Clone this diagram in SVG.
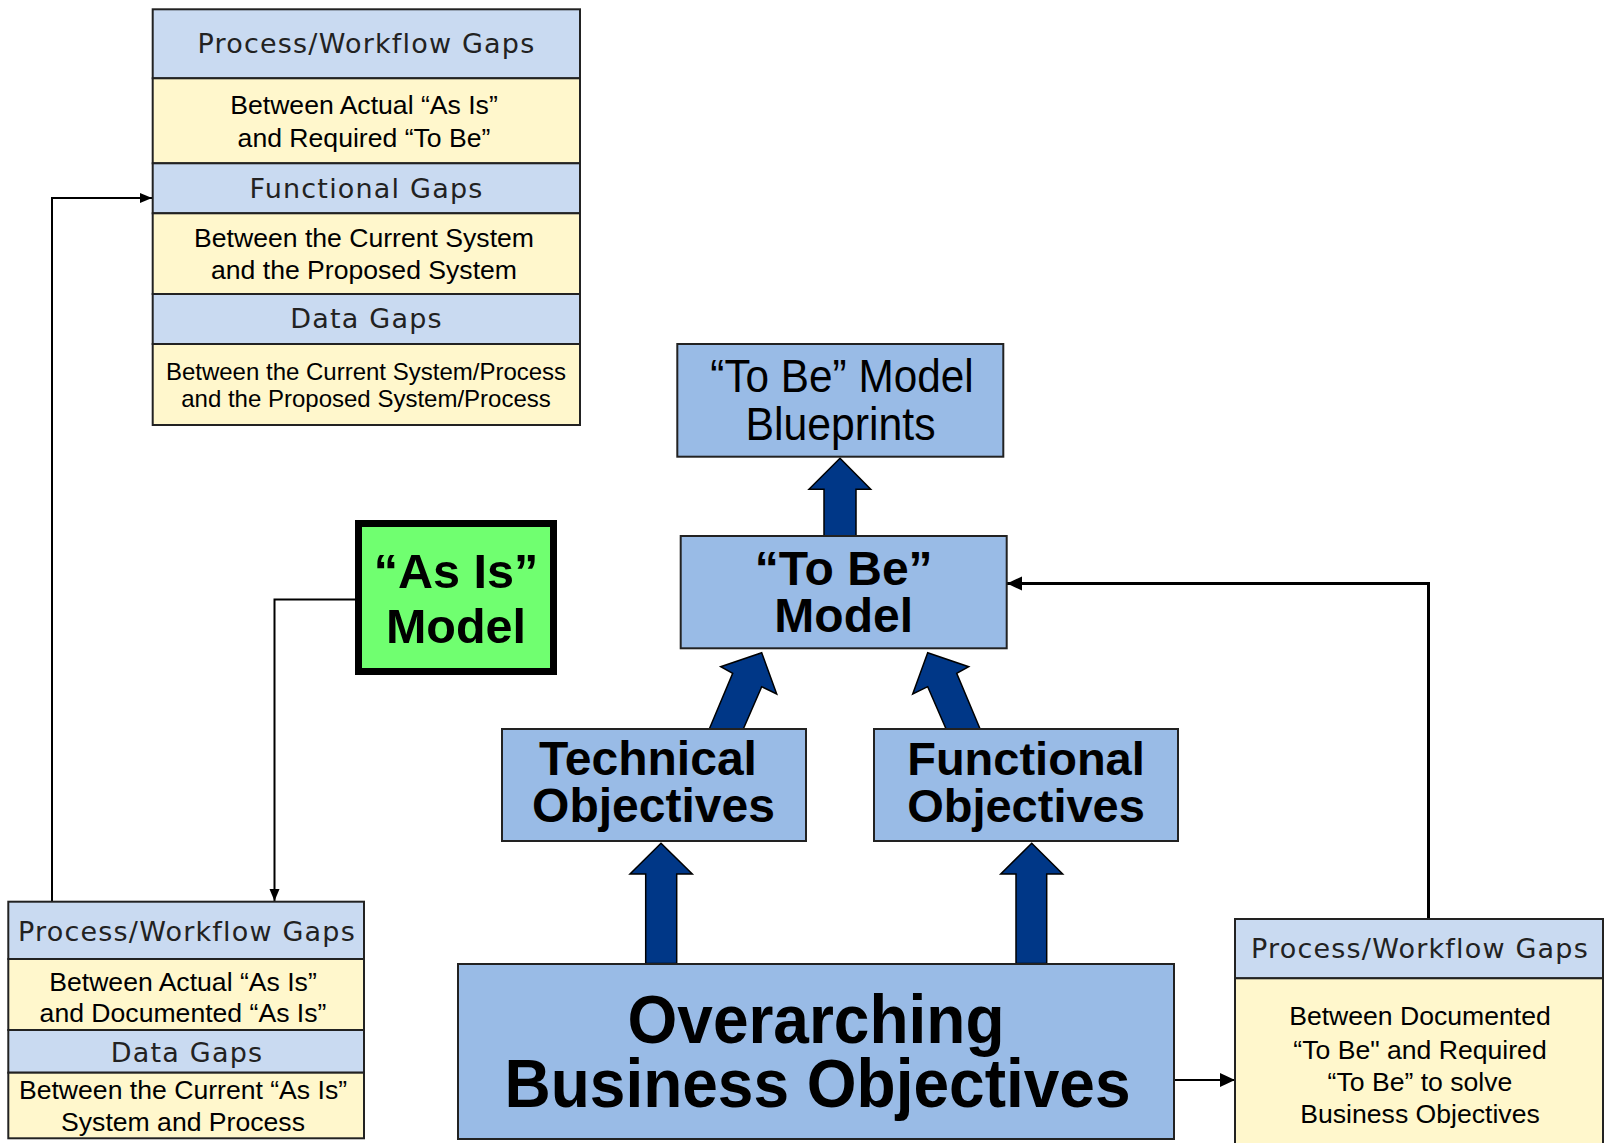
<svg xmlns="http://www.w3.org/2000/svg" width="1605" height="1143" viewBox="0 0 1605 1143">
<defs>
<style>
.hdr{fill:#C9DAF1;stroke:#222;stroke-width:2}
.yel{fill:#FFF7CC;stroke:#222;stroke-width:2}
.box{fill:#99BBE6;stroke:#222;stroke-width:2}
.ht{font-family:"DejaVu Sans",Verdana,sans-serif;font-size:27px;letter-spacing:1.2px;fill:#222;text-anchor:middle}
.yt{font-family:"Liberation Sans",Arial,sans-serif;font-size:26.6px;fill:#000;text-anchor:middle}
.bt{font-family:"Liberation Sans",Arial,sans-serif;font-weight:bold;fill:#000;text-anchor:middle}
.rt{font-family:"Liberation Sans",Arial,sans-serif;fill:#000;text-anchor:middle}
.blk{fill:#003787;stroke:#000;stroke-width:1.5;stroke-linejoin:miter}
.ln{fill:none;stroke:#000}
</style>
<marker id="ahS" markerUnits="userSpaceOnUse" markerWidth="12" markerHeight="12" refX="12" refY="6" orient="auto"><path d="M0,1 L12,6 L0,11 z" fill="#000"/></marker>
<marker id="ahL" markerUnits="userSpaceOnUse" markerWidth="15" markerHeight="15" refX="15" refY="7.5" orient="auto"><path d="M0,0.5 L15,7.5 L0,14.5 z" fill="#000"/></marker>
</defs>
<rect width="1605" height="1143" fill="#fff"/>

<g id="connectors">
<polyline class="ln" stroke-width="2" points="355,599.5 274.5,599.5 274.5,901" marker-end="url(#ahS)"/>
<polyline class="ln" stroke-width="2" points="52,901.5 52,198 152,198" marker-end="url(#ahS)"/>
<polyline class="ln" stroke-width="3" points="1428.5,919 1428.5,583.5 1007,583.5" marker-end="url(#ahL)"/>
<line class="ln" stroke-width="2" x1="1174" y1="1080" x2="1235" y2="1080" marker-end="url(#ahL)"/>
<polygon class="blk" points="840,458.3 870.7,489.3 856,489.3 856,536 824,536 824,489.3 809,489.3"/>
<polygon class="blk" points="761.7,652.7 776.7,694 761.7,686.7 743.3,729 709.3,729 732.7,673.3 720.7,666.7"/>
<polygon class="blk" transform="translate(1689.4,0) scale(-1,1)" points="761.7,652.7 776.7,694 761.7,686.7 743.3,729 709.3,729 732.7,673.3 720.7,666.7"/>
<polygon class="blk" points="661,843.3 692.3,874 676.7,874 676.7,963.5 645.7,963.5 645.7,874 630,874"/>
<polygon class="blk" points="1031.7,843.3 1062.7,874 1046.7,874 1046.7,963.5 1016,963.5 1016,874 1000.7,874"/>
</g>

<g id="gaps-top">
<rect class="hdr" x="152.7" y="9.3" width="427.3" height="69"/>
<rect class="yel" x="152.7" y="78.3" width="427.3" height="85"/>
<rect class="hdr" x="152.7" y="163.3" width="427.3" height="50"/>
<rect class="yel" x="152.7" y="213.3" width="427.3" height="80.7"/>
<rect class="hdr" x="152.7" y="294" width="427.3" height="50"/>
<rect class="yel" x="152.7" y="344" width="427.3" height="81"/>
<text class="ht" x="366.5" y="53.3">Process/Workflow Gaps</text>
<text class="yt" x="364" y="114.3">Between Actual “As Is”</text>
<text class="yt" x="364" y="146.7">and Required “To Be”</text>
<text class="ht" x="366.5" y="198.3">Functional Gaps</text>
<text class="yt" x="364" y="247.3">Between the Current System</text>
<text class="yt" x="364" y="279.3">and the Proposed System</text>
<text class="ht" x="366.5" y="328.3">Data Gaps</text>
<text class="yt" x="366" y="380" style="font-size:24px">Between the Current System/Process</text>
<text class="yt" x="366" y="407.3" style="font-size:24px">and the Proposed System/Process</text>
</g>

<g id="gaps-bottom-left">
<rect class="hdr" x="8.3" y="901.7" width="355.7" height="57.3"/>
<rect class="yel" x="8.3" y="959" width="355.7" height="71"/>
<rect class="hdr" x="8.3" y="1030" width="355.7" height="42.7"/>
<rect class="yel" x="8.3" y="1072.7" width="355.7" height="65.6"/>
<text class="ht" x="187" y="940.5">Process/Workflow Gaps</text>
<text class="yt" x="183" y="990.5">Between Actual “As Is”</text>
<text class="yt" x="183" y="1021.5">and Documented “As Is”</text>
<text class="ht" x="187" y="1062">Data Gaps</text>
<text class="yt" x="183" y="1099">Between the Current “As Is”</text>
<text class="yt" x="183" y="1131">System and Process</text>
</g>

<g id="gaps-bottom-right">
<rect class="hdr" x="1235" y="919" width="368" height="59.3"/>
<rect class="yel" x="1235" y="978.3" width="368" height="170"/>
<text class="ht" x="1420" y="958.3">Process/Workflow Gaps</text>
<text class="yt" x="1420" y="1024.7">Between Documented</text>
<text class="yt" x="1420" y="1059">“To Be" and Required</text>
<text class="yt" x="1420" y="1091.3">“To Be” to solve</text>
<text class="yt" x="1420" y="1123">Business Objectives</text>
</g>

<g id="blueprints">
<rect class="box" x="677.3" y="344" width="326" height="112.7"/>
<text class="rt" font-size="46" transform="translate(842,392) scale(0.92,1)">“To Be” Model</text>
<text class="rt" font-size="46" transform="translate(840.5,439.5) scale(0.93,1)">Blueprints</text>
</g>

<g id="tobe">
<rect class="box" x="680.7" y="536" width="326" height="112.3"/>
<text class="bt" x="843.7" y="585" font-size="48">“To Be”</text>
<text class="bt" x="843.7" y="631.7" font-size="48">Model</text>
</g>

<g id="asis">
<rect x="358.5" y="523.5" width="195" height="148" fill="#70FF70" stroke="#000" stroke-width="7"/>
<text class="bt" x="456" y="587.5" font-size="48.5">“As Is”</text>
<text class="bt" x="456" y="643" font-size="48.5">Model</text>
</g>

<g id="technical">
<rect class="box" x="502" y="729" width="304" height="112"/>
<text class="bt" x="648" y="775" font-size="48">Technical</text>
<text class="bt" x="653.5" y="821.7" font-size="48">Objectives</text>
</g>

<g id="functional">
<rect class="box" x="874" y="729" width="304" height="112"/>
<text class="bt" x="1026" y="775" font-size="47">Functional</text>
<text class="bt" x="1026" y="821.7" font-size="47">Objectives</text>
</g>

<g id="overarching">
<rect class="box" x="458" y="964" width="716" height="175"/>
<text class="bt" font-size="64" transform="translate(816,1043.3) scale(1,1.06)">Overarching</text>
<text class="bt" font-size="64" transform="translate(817.5,1106.7) scale(1,1.06)">Business Objectives</text>
</g>
</svg>
